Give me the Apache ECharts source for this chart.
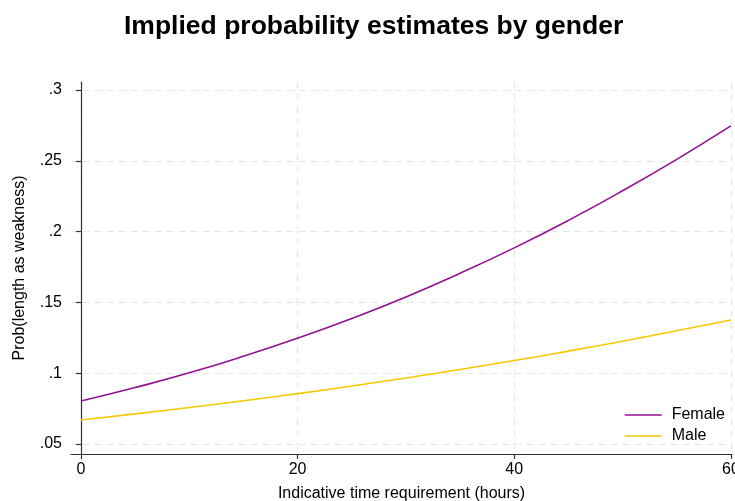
<!DOCTYPE html>
<html>
<head>
<meta charset="utf-8">
<script src="https://cdn.jsdelivr.net/npm/echarts@6/dist/echarts.min.js"></script>
<style>
  html, body { margin: 0; padding: 0; background: #fff; }
  #main { width: 735px; height: 501px; }
</style>
</head>
<body>
<div id="main"></div>
<script>
// hours on the x axis, probabilities
var hours = [0, 5, 10, 15, 20, 25, 30, 35, 40, 45, 50, 55, 60];
var female = [0.0804, 0.0899, 0.1003, 0.112, 0.1248, 0.1387, 0.1539, 0.1706, 0.1885, 0.2079, 0.2288, 0.251, 0.2746];
var male = [0.067, 0.0713, 0.0758, 0.0806, 0.0856, 0.091, 0.0967, 0.1027, 0.109, 0.1156, 0.1226, 0.13, 0.1376];
var xTicks = [0, 20, 40, 60];
var yTicks = [0.05, 0.1, 0.15, 0.2, 0.25, 0.3];

function pairs(ys) {
    return hours.map(function (h, i) { return [h, ys[i]]; });
}

var chart = echarts.init(document.getElementById('main'));

var gridDash = { color: '#e6e6e6', width: 1.2, type: [7, 5] };
var txt = { fontFamily: 'Liberation Sans', fontSize: 16, color: '#000' };

option = {
    backgroundColor: '#fff',
    animation: false,
    title: {
        text: 'Implied probability estimates by gender',
        left: 119,
        top: 8,
        textStyle: {
            fontFamily: 'Liberation Sans',
            fontSize: 26.5,
            fontWeight: 'bold',
            color: '#000'
        }
    },
    grid: {
        left: 71,
        right: 3,
        top: 82,
        bottom: 47,
        outerBoundsMode: 'none'
    },
    legend: {
        orient: 'vertical',
        right: 5,
        bottom: 52,
        icon: 'rect',
        itemWidth: 37,
        itemHeight: 1.5,
        itemGap: 5,
        textStyle: Object.assign({ padding: [0, 0, 0, 5] }, txt),
        data: ['Female', 'Male']
    },
    xAxis: {
        type: 'value',
        min: -0.92,
        max: 60.1,
        name: 'Indicative time requirement (hours)',
        nameLocation: 'middle',
        nameGap: 32,
        nameTextStyle: txt,
        axisLine: { show: true, lineStyle: { color: '#333', width: 1.2 } },
        axisTick: { show: true, length: 5, customValues: xTicks, lineStyle: { color: '#333', width: 1.2 } },
        axisLabel: Object.assign({ customValues: xTicks, margin: 8 }, txt),
        splitLine: { show: true, customValues: xTicks, lineStyle: gridDash }
    },
    yAxis: {
        type: 'value',
        min: 0.043,
        max: 0.3056,
        name: 'Prob(length as weakness)',
        nameLocation: 'middle',
        nameGap: 43,
        nameTextStyle: txt,
        axisLine: { show: true, lineStyle: { color: '#333', width: 1.2 } },
        axisTick: { show: true, length: 5, customValues: yTicks, lineStyle: { color: '#333', width: 1.2 } },
        axisLabel: Object.assign({
            customValues: yTicks,
            margin: 9,
            formatter: function (v) { return String(v).replace(/^0\./, '.'); }
        }, txt),
        splitLine: { show: true, customValues: yTicks, lineStyle: gridDash }
    },
    series: [
        {
            name: 'Female',
            type: 'line',
            smooth: true,
            showSymbol: false,
            color: '#930f93',
            lineStyle: { width: 1.6 },
            data: pairs(female)
        },
        {
            name: 'Male',
            type: 'line',
            smooth: true,
            showSymbol: false,
            color: '#f5c800',
            lineStyle: { width: 1.6 },
            data: pairs(male)
        }
    ]
};
chart.setOption(option);
</script>
</body>
</html>
